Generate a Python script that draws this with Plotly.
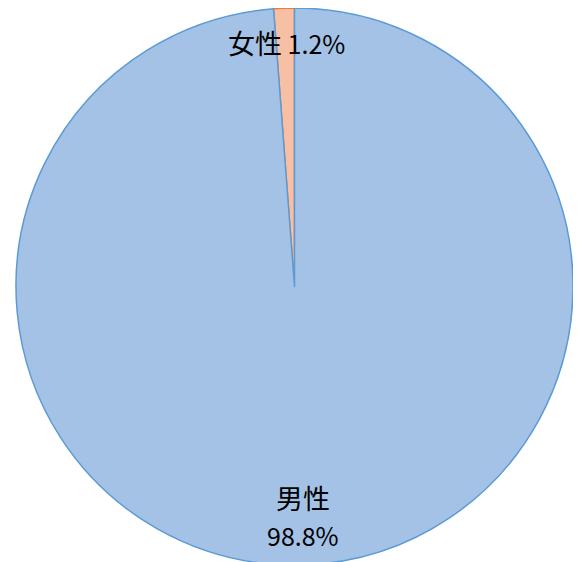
import plotly.graph_objects as go

labels = ["女性", "男性"]
values = [1.2, 98.8]
fill_colors = ["#F7BFA3", "#A4C2E6"]
line_colors = ["#ED7D31", "#5B9BD5"]

W, H = 581, 562
OFF = 8  # default page body margin

# first slice should end at 12 o'clock (sweeping clockwise)
start_rot = -values[0] / sum(values) * 360

fig = go.Figure(go.Pie(
    labels=labels,
    values=values,
    sort=False,
    direction="clockwise",
    rotation=start_rot,
    textinfo="none",
    hoverinfo="label+percent",
    marker=dict(colors=fill_colors, line=dict(color=line_colors, width=1.5)),
    domain=dict(x=[(16 - OFF) / W, (573 - OFF) / W], y=[(H - 557) / H, 1]),
    showlegend=False,
))

font_cjk = "Noto Sans CJK JP, Noto Sans, sans-serif"
pct = [f"{v:.1f}%" for v in values]

def px(x):
    return (x - OFF) / W

def py(y):
    return 1 - (y - OFF) / H

common = dict(xref="paper", yref="paper", showarrow=False,
              xanchor="center", yanchor="middle")

fig.add_annotation(
    x=px(286), y=py(43), **common,
    text=f"<span style='font-size:27px'>{labels[0]}</span> {pct[0]}",
    font=dict(family=font_cjk, size=25, color="#000000"),
)
fig.add_annotation(
    x=px(302.5), y=py(497), **common,
    text=labels[1], font=dict(family=font_cjk, size=27, color="#000000"),
)
fig.add_annotation(
    x=px(302.5), y=py(535), **common,
    text=pct[1], font=dict(family=font_cjk, size=25, color="#000000"),
)

fig.update_layout(
    width=W, height=H,
    margin=dict(l=0, r=0, t=0, b=0),
    paper_bgcolor="white", plot_bgcolor="white",
)

fig.write_html("out.html")
